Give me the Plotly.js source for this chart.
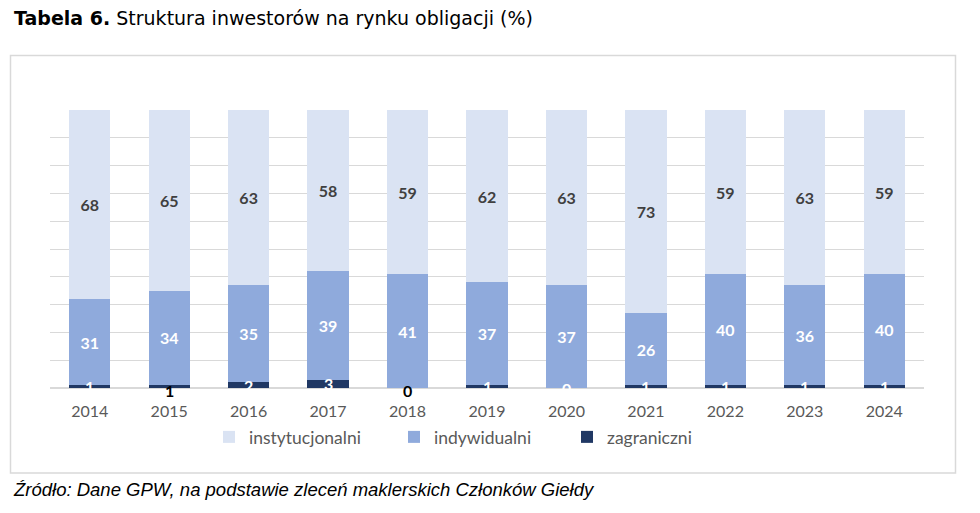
<!DOCTYPE html>
<html>
<head>
<meta charset="utf-8">
<script src="https://cdn.plot.ly/plotly-3.0.1.min.js"></script>
<style>
  html, body { margin: 0; padding: 0; background: #fff; }
  #chart { width: 980px; height: 513px; }
</style>
</head>
<body>
<div id="chart"></div>
<script>
// ---- data ----
const years = ['2014','2015','2016','2017','2018','2019','2020','2021','2022','2023','2024'];
const instytucjonalni = [68, 65, 63, 58, 59, 62, 63, 73, 59, 63, 59];
const indywidualni    = [31, 34, 35, 39, 41, 37, 37, 26, 40, 36, 40];
const zagraniczni     = [1, 1, 2, 3, 0, 1, 0, 1, 1, 1, 1];
const seriesNames = ['instytucjonalni', 'indywidualni', 'zagraniczni'];
const titleBold = 'Tabela 6.';
const titleRest = ' Struktura inwestorów na rynku obligacji (%)';
const sourceText = 'Źródło: Dane GPW, na podstawie zleceń maklerskich Członków Giełdy';
// labels of the foreign series that sit below the bar (dark text)
const labelsBelow = ['2015', '2018'];

// ---- geometry helpers (plot area 50..924 x 110..388) ----
const L = 50, R = 924, T = 110, B = 388, W = 980, H = 513;
const px2x = p => (p - L) / (R - L);
const py2y = p => (B - p) / (B - T);

const cInst = '#DAE3F3', cInd = '#8FAADC', cZag = '#203864';
const labelFont = 'Lato, "Open Sans", sans-serif';

const traces = [
  {
    type: 'bar', name: seriesNames[2], x: years, y: zagraniczni,
    marker: { color: cZag }, textposition: 'none', hoverinfo: 'skip',
    legend: 'legend3'
  },
  {
    type: 'bar', name: seriesNames[1], x: years, y: indywidualni,
    marker: { color: cInd },
    text: indywidualni.map(String), textposition: 'inside', insidetextanchor: 'middle',
    textangle: 0,
    textfont: { family: labelFont, size: 16, color: '#ffffff', weight: 'bold' },
    legend: 'legend2'
  },
  {
    type: 'bar', name: seriesNames[0], x: years, y: instytucjonalni,
    marker: { color: cInst },
    text: instytucjonalni.map(String), textposition: 'inside', insidetextanchor: 'middle',
    textangle: 0,
    textfont: { family: labelFont, size: 16, color: '#404040', weight: 'bold' },
    legend: 'legend'
  }
];

const annotations = [];
years.forEach((yr, i) => {
  const below = labelsBelow.includes(yr);
  annotations.push({
    x: i, y: below ? 0 : zagraniczni[i] / 2, xref: 'x', yref: 'y',
    text: '<b>' + zagraniczni[i] + '</b>', showarrow: false,
    yshift: below ? -2 : 0,
    font: { family: labelFont, size: 16, color: below ? '#000000' : '#ffffff' }
  });
});
annotations.push({
  xref: 'paper', yref: 'paper', x: px2x(12), y: py2y(18), xanchor: 'left', yanchor: 'middle',
  text: '<b>' + titleBold + '</b>' + titleRest, showarrow: false,
  font: { family: '"DejaVu Sans", Verdana, sans-serif', size: 19, color: '#000000' }
});
annotations.push({
  xref: 'paper', yref: 'paper', x: px2x(11), y: py2y(489), xanchor: 'left', yanchor: 'middle',
  text: '<i>' + sourceText + '</i>', showarrow: false,
  font: { family: '"Liberation Sans", Arial, sans-serif', size: 18.5, color: '#000000' }
});

const legendBase = { orientation: 'h', yanchor: 'middle', xanchor: 'left', y: py2y(437),
  font: { family: labelFont, size: 17.5, color: '#595959' }, bgcolor: 'rgba(0,0,0,0)',
  itemclick: false, itemdoubleclick: false };

const layout = {
  width: W, height: H,
  margin: { l: L, r: W - R, t: T, b: H - B, pad: 0 },
  paper_bgcolor: '#ffffff', plot_bgcolor: '#ffffff',
  barmode: 'stack', bargap: 0.48,
  showlegend: true,
  legend:  Object.assign({}, legendBase, { x: px2x(249 - 40) }),
  legend2: Object.assign({}, legendBase, { x: px2x(434 - 40) }),
  legend3: Object.assign({}, legendBase, { x: px2x(607 - 40) }),
  xaxis: {
    type: 'category', range: [-0.5, years.length - 0.5], autorange: false,
    showgrid: false, showline: false, zeroline: false, ticks: '',
    tickfont: { family: labelFont, size: 16, color: '#595959' },
    ticklabelstandoff: 12
  },
  yaxis: {
    range: [0, 100], autorange: false, dtick: 10, showticklabels: false, ticks: '',
    showgrid: true, gridcolor: '#d9d9d9', gridwidth: 1,
    zeroline: true, zerolinecolor: '#d9d9d9', zerolinewidth: 1.5, showline: false
  },
  annotations: annotations,
  shapes: [{
    type: 'rect', xref: 'paper', yref: 'paper', layer: 'below',
    x0: px2x(10.5), x1: px2x(955.5), y0: py2y(473), y1: py2y(55.5),
    line: { color: '#d9d9d9', width: 1.5 }, fillcolor: 'rgba(0,0,0,0)'
  }],
  uniformtext: { mode: false }
};

Plotly.newPlot('chart', traces, layout, { displayModeBar: false, staticPlot: true });
</script>
</body>
</html>
